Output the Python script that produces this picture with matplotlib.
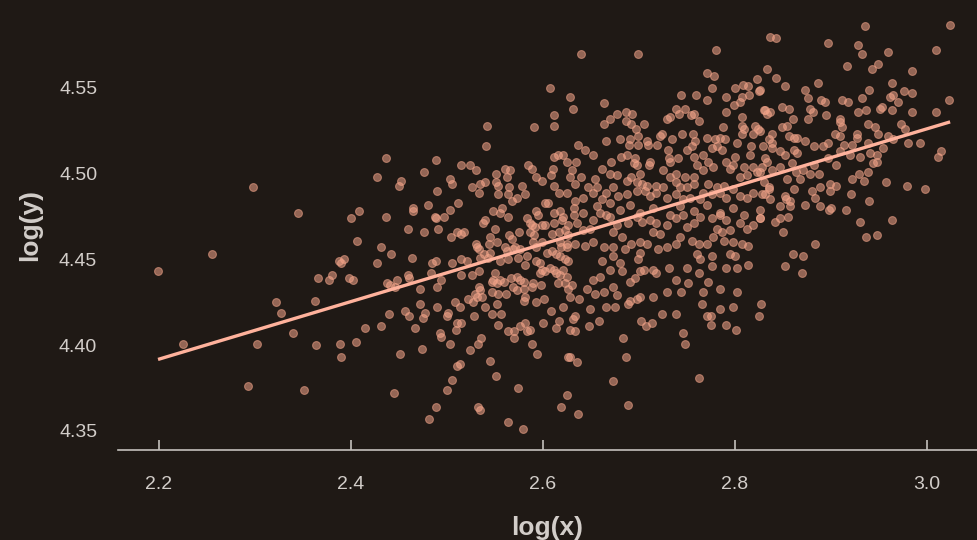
import numpy as np
import matplotlib.pyplot as plt

# log-log sample, grouped by where the points sit in the cloud
left_tail = [
    (2.298, 4.492), (2.345, 4.477), (2.408, 4.478), (2.400, 4.474), (2.255, 4.453), (2.199, 4.443), (2.406, 4.461),
    (2.388, 4.449), (2.393, 4.450), (2.390, 4.448), (2.366, 4.439), (2.380, 4.441), (2.377, 4.438), (2.398, 4.439),
    (2.402, 4.438), (2.322, 4.425), (2.327, 4.419), (2.363, 4.426), (2.415, 4.410), (2.340, 4.407), (2.225, 4.401),
    (2.302, 4.401), (2.364, 4.400), (2.389, 4.401), (2.405, 4.402), (2.390, 4.393), (2.293, 4.376), (2.351, 4.374),
]

upper_left = [
    (2.607, 4.550), (2.611, 4.534), (2.611, 4.528), (2.591, 4.527), (2.542, 4.528), (2.541, 4.516), (2.436, 4.509),
    (2.489, 4.508), (2.611, 4.510), (2.616, 4.511), (2.427, 4.498), (2.452, 4.496), (2.450, 4.493), (2.476, 4.501),
    (2.503, 4.497), (2.505, 4.494), (2.515, 4.505), (2.524, 4.505), (2.530, 4.502), (2.551, 4.500), (2.560, 4.503),
    (2.566, 4.502), (2.562, 4.498), (2.584, 4.505), (2.589, 4.503), (2.610, 4.503), (2.608, 4.499), (2.593, 4.498),
    (2.599, 4.496), (2.526, 4.492), (2.534, 4.494), (2.540, 4.495), (2.533, 4.489), (2.551, 4.495), (2.553, 4.493),
    (2.553, 4.488), (2.563, 4.488), (2.565, 4.492), (2.578, 4.493), (2.581, 4.488), (2.573, 4.486), (2.568, 4.484),
    (2.611, 4.493), (2.617, 4.489), (2.625, 4.489), (2.490, 4.490), (2.465, 4.480), (2.465, 4.478), (2.480, 4.482),
    (2.511, 4.483), (2.503, 4.479), (2.497, 4.475), (2.487, 4.475), (2.489, 4.474), (2.436, 4.475), (2.459, 4.468),
    (2.476, 4.466), (2.491, 4.468), (2.504, 4.463), (2.510, 4.466), (2.515, 4.465), (2.518, 4.466), (2.431, 4.457),
    (2.548, 4.478), (2.557, 4.480), (2.555, 4.477), (2.564, 4.475), (2.540, 4.473), (2.537, 4.471), (2.550, 4.468),
    (2.545, 4.463), (2.552, 4.460), (2.544, 4.459), (2.530, 4.459), (2.531, 4.457), (2.565, 4.464), (2.568, 4.462),
    (2.575, 4.466), (2.583, 4.474), (2.586, 4.471), (2.593, 4.478), (2.595, 4.476), (2.602, 4.483), (2.605, 4.483),
    (2.611, 4.477), (2.618, 4.478), (2.620, 4.473), (2.611, 4.471), (2.589, 4.470), (2.592, 4.469), (2.599, 4.470),
    (2.602, 4.470), (2.586, 4.466), (2.591, 4.464), (2.609, 4.465), (2.617, 4.466), (2.623, 4.467), (2.626, 4.464),
    (2.599, 4.460), (2.590, 4.460), (2.593, 4.457), (2.618, 4.460), (2.619, 4.457), (2.625, 4.459), (2.560, 4.457),
    (2.571, 4.457),
]

lower_left = [
    (2.442, 4.453), (2.463, 4.451), (2.427, 4.448), (2.484, 4.448), (2.488, 4.449), (2.505, 4.448), (2.515, 4.450),
    (2.521, 4.449), (2.533, 4.456), (2.539, 4.453), (2.545, 4.454), (2.534, 4.451), (2.543, 4.451), (2.555, 4.449),
    (2.563, 4.450), (2.562, 4.455), (2.569, 4.456), (2.576, 4.456), (2.574, 4.451), (2.583, 4.452), (2.581, 4.447),
    (2.593, 4.449), (2.599, 4.444), (2.597, 4.442), (2.602, 4.443), (2.607, 4.445), (2.611, 4.444), (2.614, 4.442),
    (2.621, 4.444), (2.618, 4.441), (2.625, 4.440), (2.609, 4.455), (2.613, 4.453), (2.618, 4.452), (2.623, 4.450),
    (2.626, 4.449), (2.597, 4.448), (2.604, 4.454), (2.483, 4.442), (2.459, 4.441), (2.460, 4.439), (2.448, 4.438),
    (2.438, 4.436), (2.441, 4.435), (2.446, 4.434), (2.494, 4.438), (2.490, 4.434), (2.472, 4.433), (2.515, 4.441),
    (2.526, 4.441), (2.533, 4.443), (2.550, 4.442), (2.548, 4.438), (2.555, 4.438), (2.559, 4.437), (2.552, 4.436),
    (2.547, 4.437), (2.567, 4.439), (2.573, 4.440), (2.576, 4.438), (2.580, 4.437), (2.590, 4.436), (2.588, 4.434),
    (2.598, 4.435), (2.616, 4.436), (2.623, 4.436), (2.626, 4.433), (2.533, 4.434), (2.534, 4.432), (2.529, 4.430),
    (2.531, 4.428), (2.522, 4.427), (2.527, 4.425), (2.536, 4.428), (2.547, 4.431), (2.553, 4.430), (2.561, 4.430),
    (2.569, 4.434), (2.573, 4.432), (2.580, 4.433), (2.581, 4.428), (2.580, 4.426), (2.472, 4.424), (2.508, 4.425),
    (2.513, 4.422), (2.490, 4.422), (2.456, 4.420), (2.460, 4.417), (2.440, 4.418), (2.477, 4.419), (2.475, 4.416),
    (2.501, 4.419), (2.500, 4.417), (2.540, 4.422), (2.547, 4.418), (2.556, 4.418), (2.552, 4.424), (2.593, 4.425),
    (2.601, 4.427), (2.621, 4.422), (2.608, 4.420), (2.528, 4.417), (2.510, 4.413), (2.515, 4.413), (2.431, 4.411),
    (2.467, 4.410), (2.509, 4.409), (2.493, 4.407), (2.494, 4.405), (2.553, 4.412), (2.563, 4.408), (2.570, 4.408),
    (2.570, 4.404), (2.576, 4.411), (2.581, 4.413), (2.583, 4.408), (2.586, 4.409), (2.600, 4.413), (2.613, 4.410),
    (2.617, 4.414), (2.535, 4.404), (2.532, 4.401), (2.503, 4.401), (2.524, 4.397), (2.474, 4.398), (2.451, 4.395),
    (2.589, 4.401), (2.594, 4.395), (2.626, 4.393), (2.545, 4.391), (2.510, 4.388), (2.514, 4.389), (2.551, 4.382),
    (2.505, 4.380), (2.500, 4.374), (2.574, 4.375), (2.445, 4.372), (2.625, 4.371), (2.489, 4.364), (2.532, 4.364),
    (2.534, 4.362), (2.619, 4.364), (2.481, 4.357), (2.563, 4.355), (2.579, 4.351),
]

upper_core = [
    (2.640, 4.570), (2.699, 4.570), (2.780, 4.572), (2.771, 4.559), (2.778, 4.557), (2.833, 4.561), (2.823, 4.555),
    (2.825, 4.548), (2.776, 4.550), (2.628, 4.545), (2.631, 4.538), (2.663, 4.541), (2.744, 4.546), (2.759, 4.546),
    (2.771, 4.543), (2.791, 4.545), (2.800, 4.550), (2.808, 4.552), (2.814, 4.551), (2.815, 4.546), (2.805, 4.542),
    (2.799, 4.540), (2.807, 4.545), (2.791, 4.536), (2.807, 4.533), (2.831, 4.537), (2.836, 4.536), (2.739, 4.538),
    (2.748, 4.538), (2.742, 4.535), (2.757, 4.535), (2.754, 4.534), (2.762, 4.531), (2.732, 4.533), (2.729, 4.532),
    (2.670, 4.532), (2.677, 4.535), (2.686, 4.536), (2.693, 4.535), (2.686, 4.531), (2.663, 4.529), (2.705, 4.529),
    (2.692, 4.529), (2.697, 4.526), (2.699, 4.522), (2.691, 4.520), (2.690, 4.517), (2.699, 4.517), (2.680, 4.520),
    (2.666, 4.519), (2.636, 4.517), (2.644, 4.514), (2.652, 4.511), (2.708, 4.519), (2.709, 4.517), (2.722, 4.522),
    (2.724, 4.523), (2.734, 4.520), (2.719, 4.517), (2.745, 4.523), (2.756, 4.523), (2.758, 4.519), (2.755, 4.516),
    (2.750, 4.514), (2.771, 4.521), (2.779, 4.520), (2.784, 4.521), (2.790, 4.520), (2.781, 4.516), (2.776, 4.515),
    (2.786, 4.514), (2.787, 4.527), (2.807, 4.528), (2.809, 4.526), (2.821, 4.528), (2.824, 4.526), (2.819, 4.523),
    (2.807, 4.523), (2.802, 4.518), (2.817, 4.516), (2.816, 4.511), (2.829, 4.516), (2.730, 4.514), (2.731, 4.509),
    (2.741, 4.509), (2.732, 4.507), (2.757, 4.510), (2.767, 4.511), (2.760, 4.505), (2.772, 4.507), (2.777, 4.504),
    (2.767, 4.502), (2.791, 4.507), (2.798, 4.505), (2.795, 4.503), (2.800, 4.510), (2.809, 4.504), (2.819, 4.504),
    (2.828, 4.504), (2.833, 4.507), (2.823, 4.501), (2.812, 4.499), (2.805, 4.498), (2.621, 4.511), (2.625, 4.507),
    (2.634, 4.507), (2.630, 4.502), (2.628, 4.498), (2.633, 4.494), (2.640, 4.498), (2.671, 4.507), (2.681, 4.510),
    (2.687, 4.511), (2.696, 4.509), (2.698, 4.505), (2.695, 4.506), (2.710, 4.505), (2.711, 4.507), (2.661, 4.503),
    (2.670, 4.500), (2.677, 4.499), (2.654, 4.497), (2.687, 4.496), (2.692, 4.498), (2.701, 4.500), (2.698, 4.495),
    (2.703, 4.494), (2.708, 4.493), (2.725, 4.502), (2.732, 4.498), (2.739, 4.500), (2.738, 4.495), (2.748, 4.498),
    (2.757, 4.498), (2.718, 4.493), (2.725, 4.492), (2.743, 4.492), (2.750, 4.492), (2.757, 4.494), (2.772, 4.494),
    (2.781, 4.492), (2.788, 4.493), (2.798, 4.491), (2.633, 4.484), (2.642, 4.486), (2.652, 4.489), (2.656, 4.492),
    (2.647, 4.492), (2.666, 4.489), (2.673, 4.492), (2.678, 4.487), (2.670, 4.483), (2.661, 4.485), (2.687, 4.488),
    (2.698, 4.490), (2.706, 4.490), (2.711, 4.487), (2.718, 4.489), (2.729, 4.486), (2.738, 4.488), (2.746, 4.485),
    (2.753, 4.486), (2.764, 4.485), (2.767, 4.489), (2.776, 4.488), (2.784, 4.489), (2.791, 4.486), (2.805, 4.487),
    (2.812, 4.486), (2.819, 4.489), (2.828, 4.488), (2.835, 4.491), (2.632, 4.480), (2.642, 4.477), (2.656, 4.481),
    (2.666, 4.476), (2.680, 4.479), (2.691, 4.482), (2.701, 4.477), (2.715, 4.480), (2.732, 4.476), (2.743, 4.481),
    (2.757, 4.478), (2.771, 4.482), (2.784, 4.477), (2.798, 4.480), (2.809, 4.476), (2.826, 4.479),
]

lower_core = [
    (2.621, 4.475), (2.632, 4.476), (2.626, 4.470), (2.635, 4.471), (2.642, 4.467), (2.649, 4.468), (2.652, 4.473),
    (2.659, 4.477), (2.670, 4.475), (2.677, 4.470), (2.673, 4.466), (2.682, 4.463), (2.689, 4.471), (2.698, 4.475),
    (2.703, 4.472), (2.711, 4.473), (2.718, 4.471), (2.715, 4.466), (2.722, 4.465), (2.729, 4.470), (2.738, 4.474),
    (2.746, 4.476), (2.750, 4.469), (2.757, 4.471), (2.764, 4.475), (2.776, 4.474), (2.784, 4.476), (2.791, 4.473),
    (2.781, 4.468), (2.786, 4.466), (2.777, 4.463), (2.795, 4.467), (2.805, 4.471), (2.812, 4.468), (2.819, 4.470),
    (2.826, 4.474), (2.807, 4.459), (2.814, 4.458), (2.798, 4.460), (2.788, 4.461), (2.771, 4.459), (2.762, 4.459),
    (2.755, 4.461), (2.743, 4.463), (2.738, 4.459), (2.729, 4.457), (2.720, 4.456), (2.708, 4.459), (2.701, 4.460),
    (2.692, 4.459), (2.685, 4.456), (2.673, 4.457), (2.663, 4.457), (2.652, 4.460), (2.644, 4.458), (2.633, 4.459),
    (2.625, 4.457), (2.661, 4.449), (2.673, 4.452), (2.680, 4.448), (2.682, 4.443), (2.670, 4.444), (2.659, 4.440),
    (2.652, 4.438), (2.646, 4.433), (2.654, 4.430), (2.663, 4.431), (2.673, 4.434), (2.677, 4.429), (2.691, 4.437),
    (2.696, 4.439), (2.701, 4.443), (2.705, 4.444), (2.715, 4.444), (2.718, 4.442), (2.699, 4.450), (2.701, 4.454),
    (2.691, 4.426), (2.701, 4.428), (2.715, 4.428), (2.729, 4.431), (2.739, 4.438), (2.744, 4.431), (2.751, 4.436),
    (2.764, 4.450), (2.762, 4.442), (2.772, 4.437), (2.767, 4.431), (2.776, 4.446), (2.784, 4.433), (2.791, 4.445),
    (2.802, 4.445), (2.800, 4.452), (2.814, 4.447), (2.802, 4.431), (2.795, 4.453), (2.776, 4.452), (2.750, 4.445),
    (2.731, 4.445), (2.760, 4.453), (2.630, 4.435), (2.637, 4.427), (2.628, 4.428), (2.649, 4.421), (2.666, 4.422),
    (2.675, 4.422), (2.689, 4.424), (2.698, 4.427), (2.633, 4.417), (2.631, 4.415), (2.658, 4.414), (2.648, 4.411),
    (2.628, 4.409), (2.633, 4.408), (2.702, 4.414), (2.707, 4.411), (2.714, 4.413), (2.724, 4.418), (2.738, 4.418),
    (2.766, 4.424), (2.771, 4.417), (2.775, 4.417), (2.775, 4.412), (2.784, 4.421), (2.798, 4.422), (2.791, 4.412),
    (2.801, 4.409), (2.827, 4.424), (2.825, 4.417), (2.746, 4.407), (2.748, 4.401), (2.683, 4.404), (2.686, 4.393),
    (2.628, 4.393), (2.635, 4.390), (2.673, 4.379), (2.762, 4.381), (2.688, 4.365), (2.636, 4.360),
]

upper_right = [
    (2.935, 4.586), (3.024, 4.587), (2.836, 4.580), (2.843, 4.579), (2.897, 4.576), (2.928, 4.575), (2.932, 4.570),
    (2.959, 4.571), (3.009, 4.572), (2.917, 4.563), (2.943, 4.561), (2.949, 4.564), (2.984, 4.560), (2.843, 4.556),
    (2.852, 4.551), (2.886, 4.553), (2.873, 4.549), (2.940, 4.549), (2.963, 4.553), (2.976, 4.548), (2.984, 4.547),
    (2.961, 4.545), (2.965, 4.546), (2.970, 4.542), (2.932, 4.544), (2.876, 4.544), (2.889, 4.543), (2.894, 4.542),
    (2.911, 4.543), (2.918, 4.542), (3.023, 4.543), (2.826, 4.549), (2.830, 4.537), (2.833, 4.535), (2.849, 4.539),
    (2.856, 4.538), (2.878, 4.538), (2.881, 4.536), (2.876, 4.532), (2.895, 4.534), (2.928, 4.536), (2.936, 4.537),
    (2.951, 4.538), (2.953, 4.539), (2.963, 4.537), (2.984, 4.536), (3.009, 4.536), (2.860, 4.532), (2.909, 4.532),
    (2.909, 4.530), (2.911, 4.527), (2.938, 4.529), (2.973, 4.529), (2.977, 4.526), (2.849, 4.527), (2.854, 4.528),
    (2.826, 4.525), (2.946, 4.527), (2.949, 4.523), (2.959, 4.522), (2.964, 4.520), (2.904, 4.523), (2.909, 4.522),
    (2.927, 4.523), (2.927, 4.521), (2.838, 4.523), (2.835, 4.520), (2.838, 4.518), (2.856, 4.522), (2.861, 4.521),
    (2.864, 4.521), (2.873, 4.519), (2.882, 4.516), (2.892, 4.516), (2.897, 4.518), (2.913, 4.517), (2.922, 4.517),
    (2.938, 4.518), (2.954, 4.515), (2.980, 4.518), (2.993, 4.518), (3.014, 4.513), (3.011, 4.510), (2.838, 4.515),
    (2.847, 4.513), (2.852, 4.511), (2.861, 4.514), (2.864, 4.512), (2.831, 4.509), (2.909, 4.513), (2.920, 4.511),
    (2.930, 4.510), (2.941, 4.512), (2.948, 4.511), (2.944, 4.506), (2.948, 4.507), (2.897, 4.509), (2.905, 4.505),
    (2.882, 4.505), (2.887, 4.500), (2.878, 4.500), (2.871, 4.502), (2.859, 4.506), (2.863, 4.501), (2.854, 4.497),
    (2.847, 4.504), (2.838, 4.502), (2.868, 4.497), (2.861, 4.491), (2.852, 4.487), (2.853, 4.485), (2.857, 4.484),
    (2.847, 4.481), (2.830, 4.495), (2.835, 4.492), (2.831, 4.488), (2.836, 4.485), (2.826, 4.501), (2.922, 4.497),
    (2.929, 4.500), (2.934, 4.496), (2.938, 4.501), (2.957, 4.495), (2.979, 4.493), (2.998, 4.491), (2.888, 4.492),
    (2.899, 4.494), (2.905, 4.493), (2.899, 4.490), (2.880, 4.490), (2.883, 4.486), (2.921, 4.488), (2.940, 4.484),
    (2.873, 4.482), (2.888, 4.481), (2.898, 4.479), (2.900, 4.480), (2.916, 4.479),
]

lower_right = [
    (2.857, 4.481), (2.930, 4.472), (2.936, 4.463), (2.948, 4.464), (2.963, 4.473), (2.826, 4.474), (2.842, 4.472),
    (2.847, 4.474), (2.855, 4.475), (2.850, 4.466), (2.883, 4.459), (2.860, 4.453), (2.871, 4.452), (2.852, 4.446),
    (2.870, 4.442),
]

# fitted trend: intercept and slope of the regression line
fit_intercept = 4.0225
fit_slope = 0.1679

x_ticks = [2.2, 2.4, 2.6, 2.8, 3.0]
y_ticks = [4.35, 4.40, 4.45, 4.50, 4.55]

pts = np.array(left_tail + upper_left + lower_left + upper_core + lower_core + upper_right + lower_right)
log_x, log_y = pts[:, 0], pts[:, 1]

# trend line drawn across the range of x
fit_x = np.array([log_x.min(), log_x.max()])
fit_y = fit_intercept + fit_slope * fit_x

BG = "#1f1915"
TXT = "#d2cdc9"
DOT = "#f4a58a"
LINE = "#ffb29c"

plt.rcParams["font.family"] = ["Liberation Sans", "DejaVu Sans"]

fig = plt.figure(figsize=(9.77, 5.4), dpi=100, facecolor=BG)
ax = fig.add_axes([118 / 977, 90 / 540, 1 - 118 / 977, 1 - 90 / 540])
ax.set_facecolor(BG)

ax.scatter(log_x, log_y, s=32, facecolor=DOT, edgecolor=DOT, linewidth=0.8, alpha=0.55, zorder=2)
ax.plot(fit_x, fit_y, color=LINE, linewidth=2.4, solid_capstyle="butt", zorder=3)

ax.set_xlim(2.1573, 3.052)
ax.set_ylim(4.3389, 4.6013)
ax.set_xticks(x_ticks)
ax.set_xticklabels([f"{v:.1f}" for v in x_ticks])
ax.set_yticks(y_ticks)
ax.set_yticklabels([f"{v:.2f}" for v in y_ticks])

for side in ["top", "right", "left"]:
    ax.spines[side].set_visible(False)
ax.spines["bottom"].set_color("#c4c0bc")
ax.spines["bottom"].set_linewidth(1.2)

ax.tick_params(axis="x", direction="in", length=7, width=1.2, color="#c4c0bc",
               labelcolor=TXT, labelsize=14, pad=19)
ax.tick_params(axis="y", length=0, labelcolor=TXT, labelsize=14, pad=15)

ax.set_xlabel("log(x)", color=TXT, fontsize=19, fontweight="bold", labelpad=16)
ax.set_ylabel("log(y)", color=TXT, fontsize=19, fontweight="bold", labelpad=12)

fig.savefig("out.png", dpi=100, facecolor=BG)
